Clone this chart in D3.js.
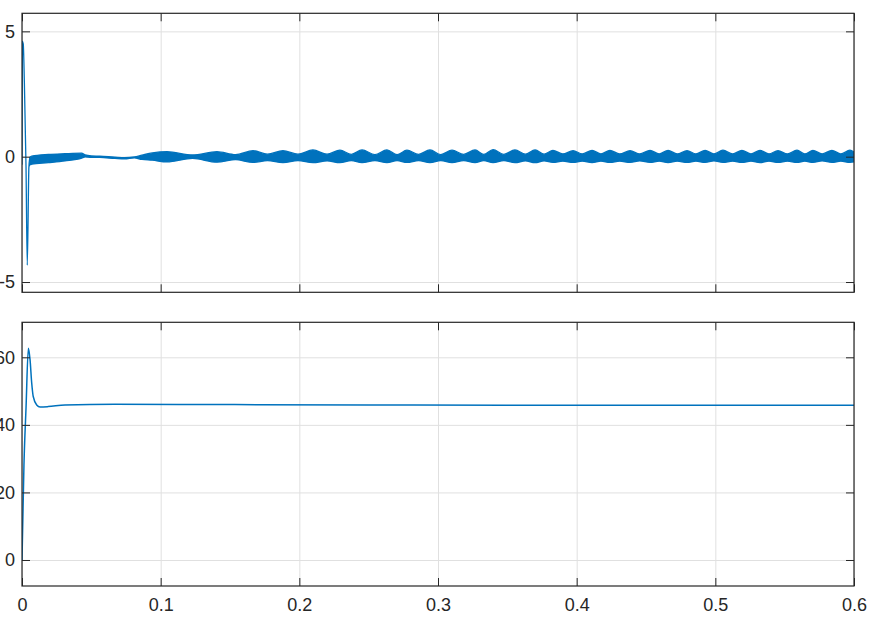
<!DOCTYPE html>
<html>
<head>
<meta charset="utf-8">
<script src="https://cdn.jsdelivr.net/npm/d3@7"></script>
<style>
  html, body { margin: 0; padding: 0; background: #fff; }
  svg { display: block; }
  text { font-family: "Liberation Sans", Arial, Helvetica, sans-serif; }
</style>
</head>
<body>
<svg id="chart" width="875" height="619"></svg>
<script>
// ---------------- DATA ----------------
const xTicks = [0, 0.1, 0.2, 0.3, 0.4, 0.5, 0.6];
const xTickLabels = ["0", "0.1", "0.2", "0.3", "0.4", "0.5", "0.6"];
const topYTicks = [-5, 0, 5];
const topYTickLabels = ["-5", "0", "5"];
const botYTicks = [0, 20, 40, 60];
const botYTickLabels = ["0", "20", "40", "60"];

// Top signal: envelope (upper / lower)
const topT = [0, 0.0003, 0.0009, 0.0017, 0.0029, 0.0038, 0.0050, 0.0058, 0.007, 0.019, 0.031, 0.043, 0.0455, 0.050, 0.056, 0.067, 0.074, 0.081, 0.0865, 0.094,
  0.1046, 0.1230, 0.1406, 0.1540, 0.1666, 0.1770, 0.1882, 0.1990, 0.2098, 0.2200, 0.2293, 0.2375, 0.2452, 0.2545, 0.2632, 0.2705, 0.2776, 0.2860,
  0.2942, 0.3020, 0.3101, 0.3185, 0.3267, 0.3330, 0.3397, 0.3475, 0.3555, 0.3630, 0.3700, 0.3765, 0.3829, 0.3900, 0.3974, 0.4040, 0.4111, 0.4175,
  0.4240, 0.4310, 0.4385, 0.4455, 0.4529, 0.4595, 0.4659, 0.4725, 0.4796, 0.4860, 0.4926, 0.4990, 0.5055, 0.5125, 0.5192, 0.5257, 0.5322, 0.5387,
  0.5452, 0.5520, 0.5589, 0.5645, 0.5704, 0.5770, 0.5841, 0.5905, 0.5971, 0.6000];
const topHi = [-0.3, 4.6, 4.5, 3.0, -0.4, -4.33, -0.4, -0.02, 0.02, 0.09, 0.12, 0.14, 0.07, 0.03, 0.02, -0.02, -0.04, -0.01, 0.06, 0.15,
  0.20, 0.07, 0.20, 0.08, 0.24, 0.10, 0.24, 0.10, 0.27, 0.10, 0.26, 0.09, 0.27, 0.08, 0.27, 0.08, 0.26, 0.09,
  0.27, 0.08, 0.26, 0.09, 0.27, 0.09, 0.28, 0.09, 0.27, 0.10, 0.27, 0.10, 0.25, 0.11, 0.24, 0.11, 0.25, 0.11,
  0.25, 0.11, 0.24, 0.11, 0.25, 0.11, 0.25, 0.11, 0.24, 0.11, 0.25, 0.11, 0.26, 0.11, 0.25, 0.11, 0.25, 0.11,
  0.24, 0.11, 0.26, 0.11, 0.25, 0.11, 0.25, 0.11, 0.26, 0.18];
const topLo = [-0.3, 4.6, 4.5, 3.0, -0.4, -4.33, -0.4, -0.32, -0.3, -0.24, -0.17, -0.06, -0.01, -0.03, -0.03, -0.07, -0.09, -0.05, -0.11, -0.14,
  -0.21, -0.07, -0.22, -0.12, -0.23, -0.16, -0.24, -0.16, -0.24, -0.17, -0.24, -0.16, -0.24, -0.16, -0.24, -0.16, -0.23, -0.16,
  -0.24, -0.16, -0.24, -0.16, -0.24, -0.16, -0.24, -0.16, -0.24, -0.17, -0.24, -0.17, -0.23, -0.18, -0.23, -0.18, -0.24, -0.18,
  -0.23, -0.18, -0.23, -0.17, -0.23, -0.18, -0.24, -0.18, -0.23, -0.18, -0.23, -0.17, -0.23, -0.18, -0.23, -0.18, -0.24, -0.18,
  -0.23, -0.18, -0.23, -0.18, -0.23, -0.17, -0.23, -0.18, -0.23, -0.21];

// Bottom signal
const botT = [0, 0.0014, 0.0029, 0.0046, 0.0058, 0.0070, 0.0081, 0.0106, 0.013, 0.0188, 0.031, 0.067, 0.15, 0.25, 0.35, 0.45, 0.55, 0.6];
const botV = [0, 28, 45, 62.7, 59.3, 52.4, 48.4, 45.9, 45.3, 45.4, 45.9, 46.1, 46.0, 45.9, 45.8, 45.8, 45.8, 45.8];

// ---------------- LAYOUT ----------------
const L = 22, R = 854;
const panels = [
  { top: 13.3, bottom: 292.3, domain: [-5.41, 5.72], ticks: topYTicks, labels: topYTickLabels, xLabels: false },
  { top: 322.3, bottom: 586, domain: [-7.7, 70.36], ticks: botYTicks, labels: botYTickLabels, xLabels: true }
];
const lineColor = "#0072BD";
const axisColor = "#262626";
const gridColor = "#e0e0e0";
const tickLen = 8;

const svg = d3.select("#chart");
const x = d3.scaleLinear().domain([0, 0.6]).range([L, R]);

panels.forEach((p, i) => {
  const y = d3.scaleLinear().domain(p.domain).range([p.bottom, p.top]);
  const g = svg.append("g");
  const h = p.bottom - p.top, w = R - L;

  svg.append("clipPath").attr("id", "clip" + i)
    .append("rect").attr("x", L).attr("y", p.top).attr("width", w).attr("height", h);

  // grid
  const gx = g.append("g").attr("transform", `translate(0,${p.bottom})`)
    .call(d3.axisBottom(x).tickValues(xTicks).tickSize(-h).tickFormat(""));
  const gy = g.append("g").attr("transform", `translate(${L},0)`)
    .call(d3.axisLeft(y).tickValues(p.ticks).tickSize(-w).tickFormat(""));
  [gx, gy].forEach(a => {
    a.select(".domain").remove();
    a.selectAll("line").attr("stroke", gridColor).attr("stroke-width", 1);
  });

  // data
  const plot = g.append("g").attr("clip-path", `url(#clip${i})`);
  if (i === 0) {
    const rows = topT.map((t, k) => ({ t, hi: topHi[k], lo: topLo[k] }));
    plot.append("path").datum(rows)
      .attr("d", d3.area().x(d => x(d.t)).y0(d => y(d.lo)).y1(d => y(d.hi)).curve(d3.curveMonotoneX))
      .attr("fill", lineColor).attr("stroke", lineColor).attr("stroke-width", 1.3)
      .attr("stroke-linejoin", "round");
  } else {
    const rows = botT.map((t, k) => ({ t, v: botV[k] }));
    plot.append("path").datum(rows)
      .attr("d", d3.line().x(d => x(d.t)).y(d => y(d.v)).curve(d3.curveMonotoneX))
      .attr("fill", "none").attr("stroke", lineColor).attr("stroke-width", 1.5)
      .attr("stroke-linejoin", "round");
  }

  // axes with inward ticks on all sides
  const axL = g.append("g").attr("transform", `translate(${L},0)`)
    .call(d3.axisLeft(y).tickValues(p.ticks).tickSize(-tickLen).tickPadding(7)
      .tickFormat((d, k) => p.labels[k]));
  const axR = g.append("g").attr("transform", `translate(${R},0)`)
    .call(d3.axisRight(y).tickValues(p.ticks).tickSize(-tickLen).tickFormat(""));
  const axB = g.append("g").attr("transform", `translate(0,${p.bottom})`)
    .call(d3.axisBottom(x).tickValues(xTicks).tickSize(-tickLen).tickPadding(12)
      .tickFormat((d, k) => p.xLabels ? xTickLabels[k] : ""));
  const axT = g.append("g").attr("transform", `translate(0,${p.top})`)
    .call(d3.axisTop(x).tickValues(xTicks).tickSize(-tickLen).tickFormat(""));
  [axL, axR, axB, axT].forEach(a => {
    a.select(".domain").remove();
    a.selectAll("line").attr("stroke", axisColor).attr("stroke-width", 1);
    a.selectAll("text").attr("fill", axisColor).attr("font-size", 18)
      .attr("font-family", "'Liberation Sans', Arial, sans-serif");
  });

  // box
  g.append("rect").attr("x", L).attr("y", p.top).attr("width", w).attr("height", h)
    .attr("fill", "none").attr("stroke", axisColor).attr("stroke-width", 1.2);
});
</script>
</body>
</html>
